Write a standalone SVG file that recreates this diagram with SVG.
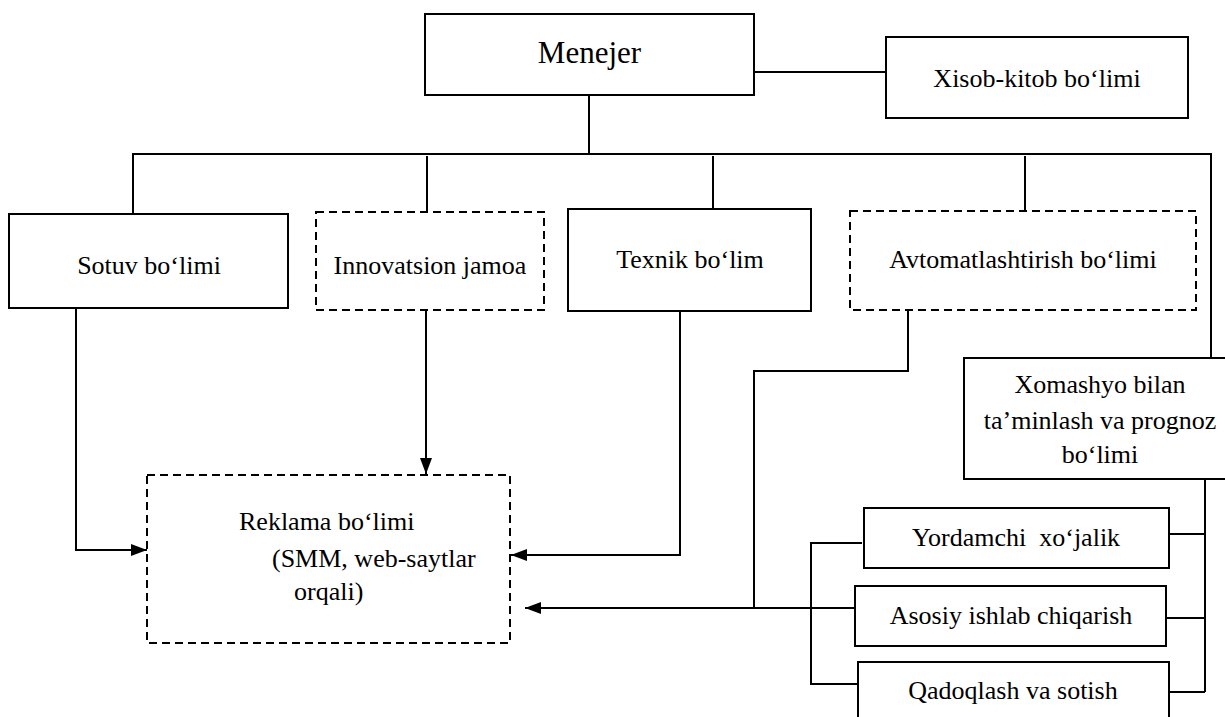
<svg xmlns="http://www.w3.org/2000/svg" width="1225" height="717" viewBox="0 0 1225 717">
<style>
.box{fill:#fff;stroke:#000;stroke-width:2}
.dash{fill:#fff;stroke:#000;stroke-width:2;stroke-dasharray:8 5}
.ln{fill:none;stroke:#000;stroke-width:2}
text{font-family:"Liberation Serif","Times New Roman",serif;font-size:26px;fill:#000}
.c{text-anchor:middle}
</style>
<defs>
<marker id="ah" viewBox="0 0 16 12" refX="16" refY="6" markerWidth="16" markerHeight="12" markerUnits="userSpaceOnUse" orient="auto">
<path d="M0,0 L16,6 L0,12 z" fill="#000"/>
</marker>
</defs>
<rect width="1225" height="717" fill="#fff"/>
<g id="connectors">
<path class="ln" d="M754,72 H886"/>
<path class="ln" d="M589,95 V154"/>
<path class="ln" d="M133,214 V154 H1211 V365"/>
<path class="ln" d="M427,156 V212"/>
<path class="ln" d="M713,156 V209"/>
<path class="ln" d="M1025,156 V211"/>
<path class="ln" d="M76,308 V550 H147" marker-end="url(#ah)"/>
<path class="ln" d="M426,310 V474" marker-end="url(#ah)"/>
<path class="ln" d="M680,311 V555 H511" marker-end="url(#ah)"/>
<path class="ln" d="M908,310 V371 H754 V608"/>
<path class="ln" d="M855,608 H525" marker-end="url(#ah)"/>
<path class="ln" d="M862,543 H811 V684 H860"/>
<path class="ln" d="M1205,463 V692 M1169,534 H1205 M1166,618 H1205 M1169,692 H1205"/>
</g>
<g id="menejer">
<rect class="box" x="425" y="14" width="329" height="81"/>
<text class="c" x="589.5" y="63" style="font-size:31px">Menejer</text>
</g>
<g id="xisob">
<rect class="box" x="886" y="37" width="302" height="81"/>
<text class="c" x="1037" y="87">Xisob-kitob bo‘limi</text>
</g>
<g id="sotuv">
<rect class="box" x="9" y="214" width="279" height="94"/>
<text class="c" x="149" y="274">Sotuv bo‘limi</text>
</g>
<g id="innovatsion">
<rect class="dash" x="316" y="212" width="228" height="98"/>
<text class="c" x="430" y="274">Innovatsion jamoa</text>
</g>
<g id="texnik">
<rect class="box" x="568" y="209" width="243" height="102"/>
<text class="c" x="690" y="268">Texnik bo‘lim</text>
</g>
<g id="avtomat">
<rect class="dash" x="850" y="211" width="346" height="99"/>
<text class="c" x="1023" y="268">Avtomatlashtirish bo‘limi</text>
</g>
<g id="xomashyo">
<rect class="box" x="964" y="358" width="270" height="121"/>
<text class="c" x="1100" y="393">Xomashyo bilan</text>
<text class="c" x="1100" y="429">ta’minlash va prognoz</text>
<text class="c" x="1100" y="463">bo‘limi</text>
</g>
<g id="yordamchi">
<rect class="box" x="864" y="508" width="305" height="60"/>
<text class="c" x="1016" y="546" xml:space="preserve">Yordamchi  xo‘jalik</text>
</g>
<g id="asosiy">
<rect class="box" x="855" y="586" width="311" height="60"/>
<text class="c" x="1011" y="624">Asosiy ishlab chiqarish</text>
</g>
<g id="qadoqlash">
<rect class="box" x="858" y="662" width="311" height="70"/>
<text class="c" x="1013" y="699">Qadoqlash va sotish</text>
</g>
<g id="reklama">
<rect class="dash" x="147" y="475" width="363" height="168"/>
<text x="239" y="530">Reklama bo‘limi</text>
<text x="272" y="567">(SMM, web-saytlar</text>
<text x="294" y="600">orqali)</text>
</g>
</svg>
